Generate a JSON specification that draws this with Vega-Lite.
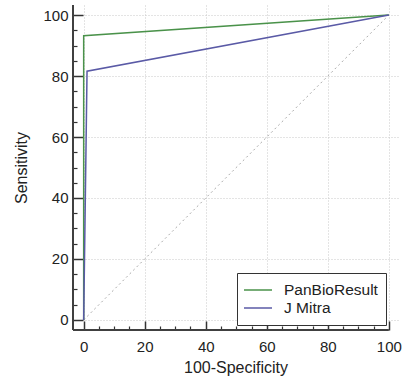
{
  "$schema": "https://vega.github.io/schema/vega-lite/v6.json",
  "width": 325,
  "height": 325,
  "autosize": "none",
  "padding": {"left": 73, "top": 5, "right": 4, "bottom": 50},
  "config": {
    "view": {"stroke": null},
    "font": "Liberation Sans",
    "axis": {"labelColor": "#222", "titleColor": "#222", "tickColor": "#333", "titleFontWeight": "normal"}
  },
  "datasets": {
    "roc": [
      {"series": "PanBioResult", "i": 0, "fpr": 0, "tpr": 0},
      {"series": "PanBioResult", "i": 1, "fpr": 0, "tpr": 93.2},
      {"series": "PanBioResult", "i": 2, "fpr": 100, "tpr": 100},
      {"series": "J Mitra", "i": 0, "fpr": 0, "tpr": 0},
      {"series": "J Mitra", "i": 1, "fpr": 1.1, "tpr": 81.6},
      {"series": "J Mitra", "i": 2, "fpr": 100, "tpr": 100}
    ],
    "diag": [{"x": 0, "y": 0}, {"x": 100, "y": 100}],
    "axislines": [{"x1": -3.5, "x2": 100, "y1": -3.3, "y2": -3.3}, {"x1": -3.5, "x2": -3.5, "y1": -3.3, "y2": 103.3}]
  },
  "layer": [
    {
      "data": {"name": "diag"},
      "mark": {"type": "line", "strokeDash": [2, 3], "color": "#aaaaaa", "strokeWidth": 1},
      "encoding": {
        "x": {"field": "x", "type": "quantitative", "scale": {"domain": [-3.5, 103], "nice": false, "zero": false},
          "axis": {"orient": "bottom", "values": [5,10,15,25,30,35,45,50,55,65,70,75,85,90,95], "labels": false, "domain": false, "grid": false, "tickSize": -4, "tickWidth": 1.2, "title": null}},
        "y": {"field": "y", "type": "quantitative", "scale": {"domain": [-3.3, 103.3], "nice": false, "zero": false},
          "axis": {"orient": "left", "values": [5,10,15,25,30,35,45,50,55,65,70,75,85,90,95], "labels": false, "domain": false, "grid": false, "tickSize": -4, "tickWidth": 1.2, "title": null}}
      }
    },
    {
      "data": {"name": "roc"},
      "mark": {"type": "line", "strokeWidth": 1.5},
      "encoding": {
        "x": {"field": "fpr", "type": "quantitative", "scale": {"domain": [-3.5, 103], "nice": false, "zero": false},
          "axis": {"orient": "bottom", "values": [0,20,40,60,80,100], "domain": false, "grid": true, "gridDash": [1, 2], "gridColor": "#c8c8c8", "tickSize": -9, "tickWidth": 1.5, "labelPadding": 18, "labelFontSize": 15, "title": "100-Specificity", "titleFontSize": 16, "titlePadding": 5}},
        "y": {"field": "tpr", "type": "quantitative", "scale": {"domain": [-3.3, 103.3], "nice": false, "zero": false},
          "axis": {"orient": "left", "values": [0,20,40,60,80,100], "domain": false, "grid": true, "gridDash": [1, 2], "gridColor": "#c8c8c8", "tickSize": -10, "tickWidth": 1.5, "labelPadding": 15, "labelFontSize": 15, "title": "Sensitivity", "titleFontSize": 16, "titlePadding": 13}},
        "color": {"field": "series", "type": "nominal",
          "scale": {"domain": ["PanBioResult", "J Mitra"], "range": ["#4a924a", "#5a5aa6"]},
          "legend": {"title": null, "orient": "none", "legendX": 164, "legendY": 268, "strokeColor": "#333", "fillColor": "white", "padding": 8, "symbolType": "M-1.75,0H1.75", "symbolSize": 256, "symbolOffset": 4, "symbolFillColor": "transparent", "symbolStrokeWidth": 1.5, "labelFontSize": 15.5, "labelOffset": 17, "rowPadding": 0, "labelColor": "#222"}},
        "order": {"field": "i", "type": "quantitative"}
      }
    },
    {
      "data": {"name": "axislines"},
      "mark": {"type": "rule", "color": "#404040", "strokeWidth": 2},
      "encoding": {
        "x": {"field": "x1", "type": "quantitative", "axis": null},
        "x2": {"field": "x2"},
        "y": {"field": "y1", "type": "quantitative", "axis": null},
        "y2": {"field": "y2"}
      }
    }
  ],
  "resolve": {"axis": {"x": "independent", "y": "independent"}}
}
